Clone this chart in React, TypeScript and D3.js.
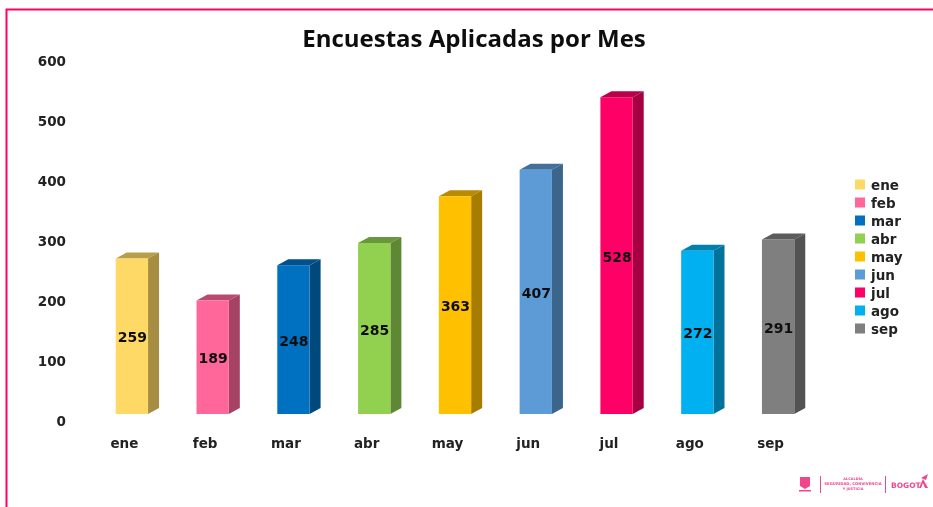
import React from "react";
import * as d3 from "d3";

const categories = ["ene", "feb", "mar", "abr", "may", "jun", "jul", "ago", "sep"];
const values = [259, 189, 248, 285, 363, 407, 528, 272, 291];
const colors = ["#FFD966", "#FF6699", "#0070C0", "#92D050", "#FFC000", "#5B9BD5", "#FF0066", "#00B0F0", "#7F7F7F"];
const ticks = [0, 100, 200, 300, 400, 500, 600];

const W = 933, H = 507;
const font = "'DejaVu Sans', sans-serif";
const y = d3.scaleLinear().domain([0, 600]).range([414, 54]);
const x = d3.scaleBand<string>().domain(categories).range([91.5, 818.5]).paddingInner(0.6).paddingOuter(0.3);
const dx = 11, dy = 6;

function shade(c: string, k: number) {
  return d3.rgb(c).darker(k).formatHex();
}

export default function App() {
  const bw = x.bandwidth();
  return (
    <svg width={W} height={H} style={{ position: "absolute", left: 0, top: 0, background: "#fff" }} fontFamily={font}>
      <defs>
        <filter id="soft" x="-5%" y="-5%" width="110%" height="110%">
          <feGaussianBlur stdDeviation="0.55" />
        </filter>
      </defs>
      <g filter="url(#soft)">
        <path d={`M6.5 ${H} V9.5 H${W}`} fill="none" stroke="#FF0066" strokeWidth={2} />
        <text x={474} y={47} textAnchor="middle" fontSize={24} fontWeight={700} fontFamily="'Open Sans', sans-serif" fill="#111">
          Encuestas Aplicadas por Mes
        </text>
        {ticks.map((t) => (
          <text key={t} x={66} y={y(t) + 11.5} textAnchor="end" fontSize={13.5} fontWeight={700} fill="#222">{t}</text>
        ))}
        {categories.map((c, i) => {
          const x0 = x(c)!;
          const x1 = x0 + bw;
          const yt = y(values[i]);
          const yb = y(0);
          return (
            <g key={c}>
              <polygon points={`${x0},${yt} ${x0 + dx},${yt - dy} ${x1 + dx},${yt - dy} ${x1},${yt}`} fill={shade(colors[i], 0.9)} />
              <polygon points={`${x1},${yt} ${x1 + dx},${yt - dy} ${x1 + dx},${yb - dy} ${x1},${yb}`} fill={shade(colors[i], 1.2)} />
              <rect x={x0} y={yt} width={bw} height={yb - yt} fill={colors[i]} />
              <text x={x0 + bw / 2 + 0.5} y={(yt + yb) / 2 + 6} textAnchor="middle" fontSize={14} fontWeight={700} fill="#111">{values[i]}</text>
              <text x={x0 + bw / 2 - 7.5} y={448} textAnchor="middle" fontSize={13.5} fontWeight={700} fill="#222">{c}</text>
            </g>
          );
        })}
        {categories.map((c, i) => {
          const ly = 184.5 + i * 18;
          return (
            <g key={c}>
              <rect x={855} y={ly - 5} width={10} height={10} fill={colors[i]} />
              <text x={871} y={ly + 5} fontSize={13.5} fontWeight={700} fill="#222">{c}</text>
            </g>
          );
        })}
        <g fill="#F0468C">
          <path d="M800 477 H810 V486 L805 489 L800 486 Z" />
          <rect x={799} y={490} width={12} height={1.5} />
          <rect x={820} y={476} width={1} height={17} />
          <rect x={885} y={476} width={1} height={17} />
          <text x={853} y={480} textAnchor="middle" fontSize={3.5} fontWeight={700}>ALCALDÍA</text>
          <text x={853} y={485} textAnchor="middle" fontSize={3.8} fontWeight={700}>SEGURIDAD, CONVIVENCIA</text>
          <text x={853} y={490} textAnchor="middle" fontSize={3.5} fontWeight={700}>Y JUSTICIA</text>
          <text x={891} y={488} fontSize={7.5} fontWeight={700}>BOGOT</text>
          <path d="M919 488 L923 479 L928 488 L925 488 L923 483 L921 488 Z" />
          <path d="M921 478 L928 474 L926 480 Z" />
        </g>
      </g>
    </svg>
  );
}
